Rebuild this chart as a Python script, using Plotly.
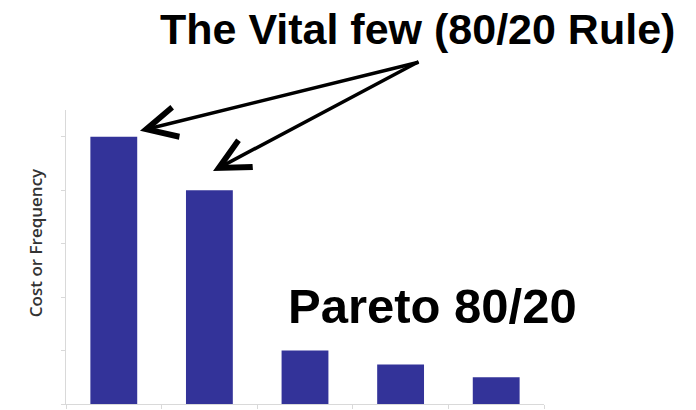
import plotly.graph_objects as go

# Data
categories = ["A", "B", "C", "D", "E"]
values = [5.0, 4.0, 1.0, 0.74, 0.5]
y_tick_values = [0, 1, 2, 3, 4, 5]

title_text = "The Vital few (80/20 Rule)"
pareto_text = "Pareto 80/20"
y_title_text = "Cost or Frequency"

BAR_COLOR = "#333399"
AXIS_COLOR = "#d9d9d9"

fig = go.Figure()
fig.add_trace(go.Bar(
    x=categories,
    y=values,
    marker=dict(color=BAR_COLOR, line=dict(width=0)),
    hoverinfo="skip",
))

fig.update_layout(
    width=696,
    height=410,
    margin=dict(l=66, r=152, t=110, b=2, pad=0),
    paper_bgcolor="white",
    plot_bgcolor="white",
    bargap=0.51,
    showlegend=False,
    xaxis=dict(
        range=[-0.5, 4.5],
        showline=True,
        linecolor=AXIS_COLOR,
        linewidth=1,
        showgrid=False,
        zeroline=False,
        showticklabels=False,
        ticks="outside",
        tickson="boundaries",
        ticklen=4,
        tickcolor=AXIS_COLOR,
    ),
    yaxis=dict(
        range=[0, 5.5],
        tickvals=y_tick_values,
        showline=True,
        linecolor=AXIS_COLOR,
        linewidth=1,
        showgrid=False,
        zeroline=False,
        showticklabels=False,
        ticks="outside",
        ticklen=4,
        tickcolor=AXIS_COLOR,
    ),
)

annotations = [
    dict(
        text="<b>" + title_text + "</b>",
        xref="paper", yref="paper",
        x=(417 - 66) / 478, y=(408 - 28) / 298,
        xanchor="center", yanchor="middle",
        showarrow=False,
        font=dict(family="Liberation Sans, Arial, sans-serif", size=43, color="black"),
    ),
    dict(
        text="<b>" + pareto_text + "</b>",
        xref="paper", yref="paper",
        x=(432 - 66) / 478, y=(408 - 309) / 298,
        xanchor="center", yanchor="middle",
        showarrow=False,
        font=dict(family="Liberation Sans, Arial, sans-serif", size=49, color="black"),
    ),
    dict(
        text=y_title_text,
        xref="paper", yref="paper",
        x=(35 - 66) / 478, y=(408 - 245) / 298,
        xanchor="center", yanchor="middle",
        textangle=-90,
        showarrow=False,
        font=dict(family="Open Sans, sans-serif", size=17, color="#333333", weight=600),
    ),
    # arrows from title to the first two bars
    dict(
        text="", x=0.274, y=5.11, xref="x", yref="y",
        ax=280, ay=-69, axref="pixel", ayref="pixel",
        showarrow=True, arrowhead=5, arrowsize=1.7, arrowwidth=3.5, arrowcolor="black",
        standoff=0,
    ),
    dict(
        text="", x=1.038, y=4.36, xref="x", yref="y",
        ax=207, ay=-110, axref="pixel", ayref="pixel",
        showarrow=True, arrowhead=5, arrowsize=1.7, arrowwidth=3.5, arrowcolor="black",
        standoff=0,
    ),
]
fig.update_layout(annotations=annotations)

fig.write_html("out.html")
